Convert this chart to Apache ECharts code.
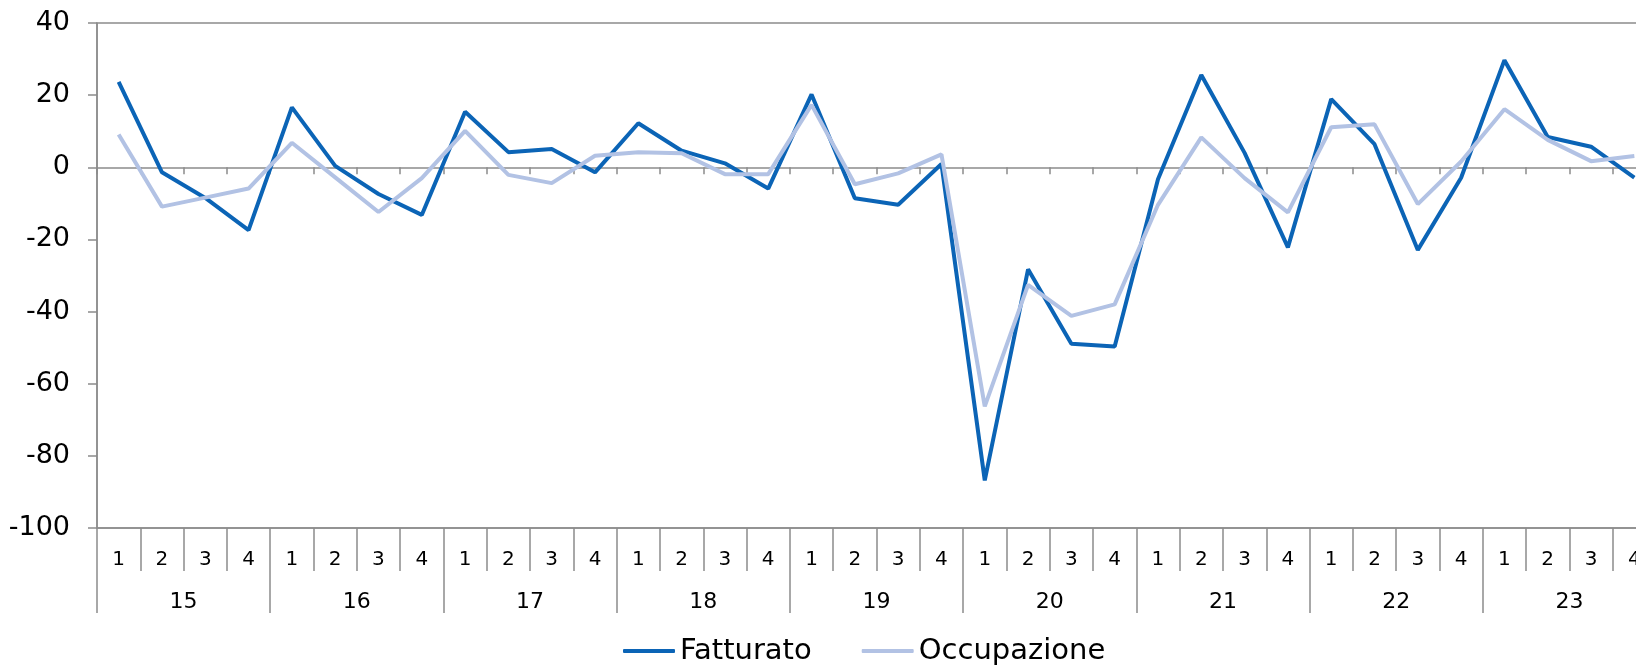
<html>

<head>
    <meta charset="utf-8" />
    <script src="https://cdn.jsdelivr.net/npm/echarts@6/dist/echarts.min.js"></script>
    <style>
        html, body { margin: 0; padding: 0; background: #fff; }
        #chart { width: 1636px; height: 666px; }
    </style>
</head>

<body>
    <div id="chart"></div>

    <script>
        // quarters 2015..2023
        var years = ['15', '16', '17', '18', '19', '20', '21', '22', '23'];
        var quarters = [];
        for (var y = 0; y < years.length; y++) {
            quarters.push('1', '2', '3', '4');
        }

        var fatturato = [
            23.7, -1.4, -8.5, -17.4,
            16.6, 0.4, -7.4, -13.2,
            15.4, 4.2, 5.1, -1.4,
            12.2, 4.6, 1.1, -5.9,
            20.2, -8.6, -10.4, 0.9,
            -86.8, -28.3, -48.9, -49.7,
            -3.3, 25.6, 4.0, -22.2,
            18.9, 6.4, -22.9, -2.9,
            29.7, 8.4, 5.7, -2.9
        ];
        var occupazione = [
            9.1, -10.9, -8.4, -5.9,
            6.8, -2.8, -12.4, -3.0,
            10.1, -2.1, -4.4, 3.2,
            4.2, 3.9, -1.9, -1.9,
            17.3, -4.7, -1.7, 3.6,
            -66.3, -32.6, -41.2, -38.0,
            -10.4, 8.3, -3.0, -12.5,
            11.1, 11.9, -10.2, 1.6,
            16.1, 7.6, 1.7, 3.1
        ];

        var axisGray = '#8c8c8c';
        var font = 'DejaVu Sans';

        var myChart = echarts.init(document.getElementById('chart'));

        var option = {
            animation: false,
            backgroundColor: '#fff',
            textStyle: { fontFamily: font, color: '#000' },
            grid: {
                left: 97, top: 23, width: 1559, height: 505,
                outerBoundsMode: 'none', containLabel: false,
                show: true, borderColor: axisGray, borderWidth: 1.5,
                backgroundColor: 'transparent'
            },
            legend: {
                left: 618, top: 630,
                itemWidth: 52, itemHeight: 4, itemGap: 50,
                icon: 'roundRect',
                textStyle: { fontFamily: font, fontSize: 29, lineHeight: 32, color: '#000' },
                data: ['Fatturato', 'Occupazione']
            },
            xAxis: [
                {
                    // line through zero with short ticks
                    type: 'category', data: quarters, position: 'bottom',
                    axisLine: { show: true, onZero: true, lineStyle: { color: axisGray, width: 1.5 } },
                    axisTick: { show: true, length: 7, interval: 0, lineStyle: { color: axisGray, width: 1.5 } },
                    axisLabel: { show: false }
                },
                {
                    // quarter row
                    type: 'category', data: quarters, position: 'bottom',
                    axisLine: { show: true, onZero: false, lineStyle: { color: axisGray, width: 1.5 } },
                    axisTick: { show: true, length: 43, interval: 0, lineStyle: { color: axisGray, width: 1.5 } },
                    axisLabel: { interval: 0, margin: 22, fontSize: 20, fontFamily: font, color: '#000' }
                },
                {
                    // year row
                    type: 'category', data: years, position: 'bottom',
                    axisLine: { onZero: false, show: false },
                    axisTick: { show: true, length: 85, interval: 0, lineStyle: { color: axisGray, width: 1.5 } },
                    axisLabel: { interval: 0, margin: 63, fontSize: 22, fontFamily: font, color: '#000' }
                }
            ],
            yAxis: {
                type: 'value', min: -100, max: 40, interval: 20,
                axisLine: { show: true, lineStyle: { color: axisGray, width: 1.5 } },
                axisTick: { show: true, length: 9, lineStyle: { color: axisGray, width: 1.5 } },
                splitLine: { show: false },
                axisLabel: { margin: 27, fontSize: 27, fontFamily: font, color: '#000' }
            },
            series: [
                {
                    name: 'Fatturato', type: 'line', data: fatturato,
                    symbol: 'none', color: '#0b64b6',
                    lineStyle: { width: 4, color: '#0b64b6' }
                },
                {
                    name: 'Occupazione', type: 'line', data: occupazione,
                    symbol: 'none', color: '#b2c2e4',
                    lineStyle: { width: 4, color: '#b2c2e4' }
                }
            ]
        };

        myChart.setOption(option);
    </script>
</body>

</html>
